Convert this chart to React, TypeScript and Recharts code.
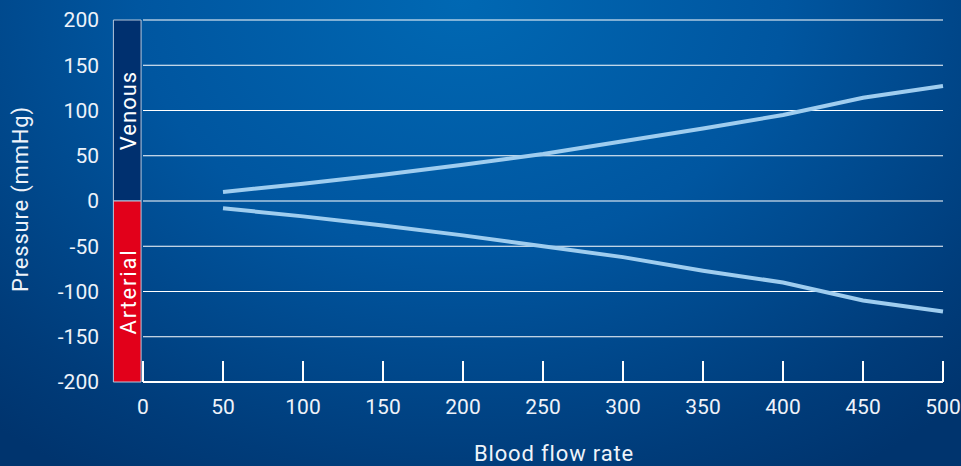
import React from 'react';
import {
  LineChart,
  Line,
  XAxis,
  YAxis,
  CartesianGrid,
  ReferenceArea,
  Label,
} from 'recharts';

const flowRates = [50, 100, 150, 200, 250, 300, 350, 400, 450, 500];
const venousPressure = [10, 19, 29, 40, 52, 66, 80, 95, 114, 127];
const arterialPressure = [-8, -17, -27, -38, -50, -62, -77, -90, -110, -122];

const xTicks = [0, 50, 100, 150, 200, 250, 300, 350, 400, 450, 500];
const yTicks = [-200, -150, -100, -50, 0, 50, 100, 150, 200];

const data = flowRates.map((flow, i) => ({
  flow,
  venous: venousPressure[i],
  arterial: arterialPressure[i],
}));

const FONT = 'Roboto, "DejaVu Sans", sans-serif';
const TEXT = '#eef3fa';
const LINE = '#9fcdef';

// x tick: tick mark pointing up from the axis + label below it
function FlowTick(props: any) {
  const { x, y, payload } = props;
  const margin = 14;
  const axisY = y - margin;
  return (
    <g>
      <line x1={x} x2={x} y1={axisY - 21} y2={axisY} stroke="#ffffff" strokeWidth={2} />
      <text
        x={x}
        y={y}
        dy={18}
        textAnchor="middle"
        fill={TEXT}
        fontSize={21}
        fontFamily={FONT}
      >
        {payload.value}
      </text>
    </g>
  );
}

function sideLabel(text: string, spacing: number) {
  return (props: any) => {
    const vb = props.viewBox;
    const cx = vb.x + vb.width / 2 + 1;
    const cy = vb.y + vb.height / 2;
    return (
      <text
        x={cx}
        y={cy}
        transform={`rotate(-90 ${cx} ${cy})`}
        textAnchor="middle"
        dominantBaseline="central"
        fill="#ffffff"
        fontSize={22}
        letterSpacing={spacing}
        fontFamily={FONT}
      >
        {text}
      </text>
    );
  };
}

export default function App() {
  return (
    <div
      style={{
        position: 'absolute',
        left: 0,
        top: 0,
        width: 961,
        height: 466,
        background:
          'radial-gradient(ellipse 75% 120% at 48% 0%, #0068b3 0%, #0056a0 45%, #003c7a 85%, #00346e 100%)',
      }}
    >
      <LineChart
        width={961}
        height={466}
        data={data}
        margin={{ top: 20, right: 18, left: 0, bottom: 0 }}
      >
        <CartesianGrid vertical={false} stroke="#ffffff" strokeWidth={1.2} />
        <XAxis
          type="number"
          dataKey="flow"
          domain={[0, 500]}
          ticks={xTicks}
          interval={0}
          height={84}
          tickSize={0}
          tickMargin={14}
          tickLine={false}
          axisLine={{ stroke: '#ffffff', strokeWidth: 2 }}
          tick={<FlowTick />}
        >
          <Label
            content={(props: any) => {
              const vb = props.viewBox;
              return (
                <text
                  x={vb.x + vb.width / 2 + 11}
                  y={vb.y + 79}
                  textAnchor="middle"
                  fill={TEXT}
                  fontSize={22}
                  letterSpacing={0.85}
                  fontFamily={FONT}
                >
                  Blood flow rate
                </text>
              );
            }}
          />
        </XAxis>
        <YAxis
          type="number"
          domain={[-200, 200]}
          ticks={yTicks}
          interval={0}
          width={143}
          tickSize={0}
          tickMargin={44}
          tickLine={false}
          axisLine={false}
          tick={{ fill: TEXT, fontSize: 21, fontFamily: FONT }}
        >
          <Label
            content={(props: any) => {
              const vb = props.viewBox;
              const cx = vb.x + 20;
              const cy = vb.y + vb.height / 2 - 2;
              return (
                <text
                  x={cx}
                  y={cy}
                  transform={`rotate(-90 ${cx} ${cy})`}
                  textAnchor="middle"
                  dominantBaseline="central"
                  fill={TEXT}
                  fontSize={22}
                  letterSpacing={0.8}
                  fontFamily={FONT}
                >
                  Pressure (mmHg)
                </text>
              );
            }}
          />
        </YAxis>
        <ReferenceArea
          x1={-18.5}
          x2={-1.2}
          y1={0}
          y2={200}
          ifOverflow="visible"
          fill="#00306f"
          fillOpacity={1}
          stroke="#b7c8dc"
          strokeWidth={1}
          label={sideLabel('Venous', 1)}
        />
        <ReferenceArea
          x1={-18.5}
          x2={-1.2}
          y1={-200}
          y2={0}
          ifOverflow="visible"
          fill="#e2001a"
          fillOpacity={1}
          stroke="#b7c8dc"
          strokeWidth={1}
          label={sideLabel('Arterial', 1.8)}
        />
        <Line
          type="linear"
          dataKey="venous"
          stroke={LINE}
          strokeWidth={4}
          dot={false}
          isAnimationActive={false}
        />
        <Line
          type="linear"
          dataKey="arterial"
          stroke={LINE}
          strokeWidth={4}
          dot={false}
          isAnimationActive={false}
        />
      </LineChart>
    </div>
  );
}
